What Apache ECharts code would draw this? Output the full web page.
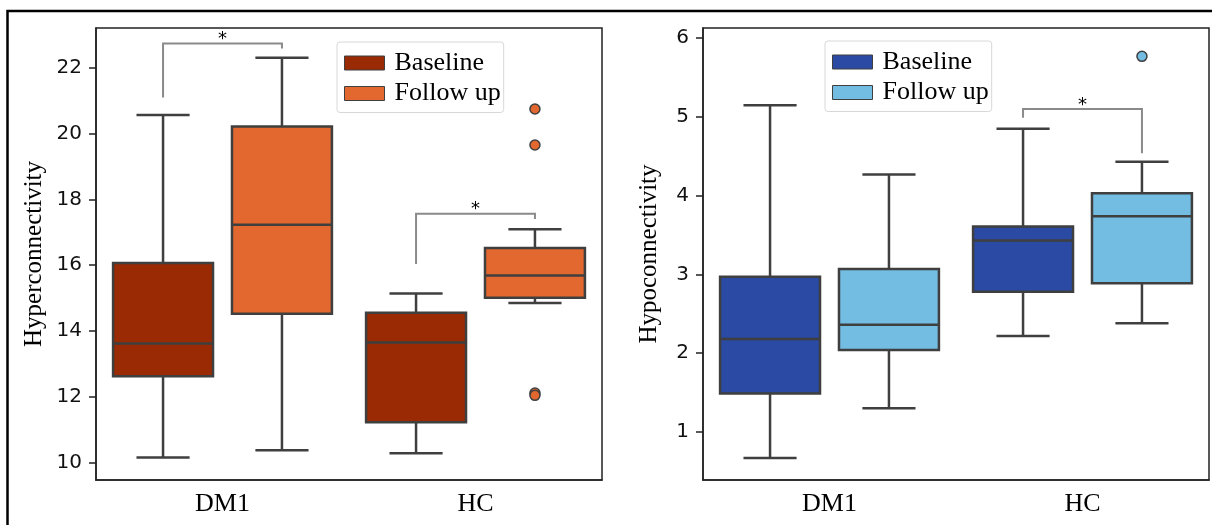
<!DOCTYPE html>
<html lang="en">

<head>
  <meta charset="utf-8">
  <title>Hyper- and hypoconnectivity boxplots</title>
  <style>
    * {
      margin: 0;
      padding: 0;
    }

    #chart-container {
      position: relative;
      width: 1212px;
      height: 525px;
      overflow: hidden;
      background: #fff;
    }
  </style>
</head>

<body>
  <div id="chart-container"></div>
  <script src="https://cdn.jsdelivr.net/npm/echarts@6/dist/echarts.min.js"></script>
  <script>
    var groups = ['DM1', 'HC'];

    // each box: [lower whisker, Q1, median, Q3, upper whisker], one per group
    var hyperBaseline = [[10.16, 12.63, 13.62, 16.07, 20.56], [10.29, 11.23, 13.65, 14.56, 15.14]];
    var hyperFollow = [[10.38, 14.53, 17.23, 20.21, 22.30], [14.85, 15.01, 15.69, 16.52, 17.09]];
    var hyperOutliers = [[1, 20.74], [1, 19.65], [1, 12.12], [1, 12.05]];
    // [group, left leg end, bar level, right leg end]
    var hyperBrackets = [[0, 21.09, 22.73, 22.58], [1, 16.04, 17.56, 17.40]];
    var hyperTicks = [10, 12, 14, 16, 18, 20, 22];

    var hypoBaseline = [[0.67, 1.49, 2.18, 2.97, 5.15], [2.22, 2.78, 3.43, 3.61, 4.85]];
    var hypoFollow = [[1.30, 2.04, 2.36, 3.07, 4.27], [2.38, 2.89, 3.74, 4.03, 4.43]];
    var hypoOutliers = [[1, 5.77]];
    var hypoBrackets = [[1, 4.99, 5.10, 4.54]];
    var hypoTicks = [1, 2, 3, 4, 5, 6];

    var EDGE = '#3f3f3f';
    var SPINE = '#222';
    var SERIF = 'Liberation Serif';
    var HUE_OFFSET = [-0.235, 0.235];
    var BOX_W = 0.395;
    var CAP_W = 0.21;

    var dom = document.getElementById('chart-container');
    var myChart = echarts.init(dom, null, { renderer: 'canvas' });

    function withIndex(list) {
      return list.map(function (v, i) { return [i].concat(v); });
    }

    function hueX(api, cat, hue) {
      var band = api.size([1, 0])[0];
      return { x: api.coord([cat, 0])[0] + HUE_OFFSET[hue] * band, band: band };
    }

    function boxRender(hue, fill) {
      return function (params, api) {
        var cat = api.value(0);
        var p = hueX(api, cat, hue);
        var cx = p.x;
        var y = [1, 2, 3, 4, 5].map(function (d) { return api.coord([cat, api.value(d)])[1]; });
        var hw = BOX_W * p.band / 2, cw = CAP_W * p.band / 2;
        var ls = { stroke: EDGE, lineWidth: 2.5 };
        return {
          type: 'group', children: [
            { type: 'line', shape: { x1: cx, y1: y[0], x2: cx, y2: y[1] }, style: ls },
            { type: 'line', shape: { x1: cx, y1: y[3], x2: cx, y2: y[4] }, style: ls },
            { type: 'line', shape: { x1: cx - cw, y1: y[0], x2: cx + cw, y2: y[0] }, style: ls },
            { type: 'line', shape: { x1: cx - cw, y1: y[4], x2: cx + cw, y2: y[4] }, style: ls },
            { type: 'rect', shape: { x: cx - hw, y: y[3], width: 2 * hw, height: y[1] - y[3] },
              style: { fill: fill, stroke: EDGE, lineWidth: 2.5 } },
            { type: 'line', shape: { x1: cx - hw, y1: y[2], x2: cx + hw, y2: y[2] }, style: ls }
          ]
        };
      };
    }

    function outlierRender(hue, fill) {
      return function (params, api) {
        var cat = api.value(0);
        var cx = hueX(api, cat, hue).x;
        var cy = api.coord([cat, api.value(1)])[1];
        return { type: 'circle', shape: { cx: cx, cy: cy, r: 5 }, style: { fill: fill, stroke: EDGE, lineWidth: 1.5 } };
      };
    }

    function bracketRender(params, api) {
      var cat = api.value(0);
      var x0 = hueX(api, cat, 0).x, x1 = hueX(api, cat, 1).x;
      var yl = api.coord([cat, api.value(1)])[1];
      var yt = api.coord([cat, api.value(2)])[1];
      var yr = api.coord([cat, api.value(3)])[1];
      return {
        type: 'group', children: [
          { type: 'polyline', shape: { points: [[x0, yl], [x0, yt], [x1, yt], [x1, yr]] },
            style: { fill: 'none', stroke: '#8a8a8a', lineWidth: 2 } },
          { type: 'text', style: { text: '*', x: (x0 + x1) / 2, y: yt + 5, align: 'center', verticalAlign: 'bottom',
            font: '18px DejaVu Sans', fill: '#000' } }
        ]
      };
    }

    function panel(idx, suffix, colors, base, follow, outliers, brackets) {
      return [
        { type: 'custom', name: 'Baseline' + suffix, xAxisIndex: idx, yAxisIndex: idx,
          itemStyle: { color: colors[0] }, renderItem: boxRender(0, colors[0]),
          encode: { x: 0, y: [1, 2, 3, 4, 5] }, data: withIndex(base) },
        { type: 'custom', name: 'Follow up' + suffix, xAxisIndex: idx, yAxisIndex: idx,
          itemStyle: { color: colors[1] }, renderItem: boxRender(1, colors[1]),
          encode: { x: 0, y: [1, 2, 3, 4, 5] }, data: withIndex(follow) },
        { type: 'custom', name: 'outliers' + idx, xAxisIndex: idx, yAxisIndex: idx,
          renderItem: outlierRender(1, colors[1]), encode: { x: 0, y: 1 }, data: outliers },
        { type: 'custom', name: 'brackets' + idx, xAxisIndex: idx, yAxisIndex: idx, z: 5,
          renderItem: bracketRender, encode: { x: 0, y: [1, 2, 3] }, data: brackets }
      ];
    }

    function xAxis(idx) {
      return {
        type: 'category', gridIndex: idx, data: groups,
        axisLine: { show: true, lineStyle: { color: SPINE, width: 1.5 } },
        axisTick: { alignWithLabel: true, length: 6, lineStyle: { color: SPINE, width: 1.5 } },
        axisLabel: { fontFamily: SERIF, fontSize: 26, color: '#000', margin: 11 }
      };
    }

    function yAxis(idx, name, min, max, ticks, gap) {
      return {
        type: 'value', gridIndex: idx, min: min, max: max,
        name: name, nameLocation: 'middle', nameGap: gap,
        nameTextStyle: { fontFamily: SERIF, fontSize: 25, color: '#000' },
        splitLine: { show: false },
        axisLine: { show: true, lineStyle: { color: SPINE, width: 1.5 } },
        axisTick: { show: true, length: 7, customValues: ticks, lineStyle: { color: SPINE, width: 1.5 } },
        axisLabel: { customValues: ticks, fontFamily: 'DejaVu Sans', fontSize: 20, color: '#111', margin: 14 }
      };
    }

    function legend(left, top, suffix) {
      return {
        left: left, top: top, orient: 'vertical',
        data: ['Baseline' + suffix, 'Follow up' + suffix],
        formatter: function (n) { return n.replace(suffix, ''); },
        icon: 'rect', itemWidth: 40, itemHeight: 14, itemGap: 4.5,
        itemStyle: { borderColor: EDGE, borderWidth: 1 },
        padding: [8, 3, 6, 7],
        borderColor: '#d8d8d8', borderWidth: 1, borderRadius: 3,
        textStyle: { fontFamily: SERIF, fontSize: 26, lineHeight: 25, color: '#000', padding: [0, 0, 0, 5] }
      };
    }

    var option = {
      backgroundColor: '#fff',
      animation: false,
      grid: [
        { left: 96, top: 28, width: 506, height: 452, show: true, borderColor: SPINE, borderWidth: 1.5 },
        { left: 703, top: 28, width: 506, height: 452, show: true, borderColor: SPINE, borderWidth: 1.5 }
      ],
      xAxis: [xAxis(0), xAxis(1)],
      yAxis: [
        yAxis(0, 'Hyperconnectivity', 9.48, 23.2, hyperTicks, 49),
        yAxis(1, 'Hypoconnectivity', 0.39, 6.13, hypoTicks, 41)
      ],
      legend: [legend(337, 42, ''), legend(825, 41, ' (hypo)')],
      graphic: [{
        type: 'rect', silent: true,
        shape: { x: 7.5, y: 11, width: 1230, height: 540 },
        style: { fill: 'none', stroke: '#000', lineWidth: 2.5 }
      }],
      series: [].concat(
        panel(0, '', ['#992a03', '#e2682f'], hyperBaseline, hyperFollow, hyperOutliers, hyperBrackets),
        panel(1, ' (hypo)', ['#2a4aa3', '#73bde3'], hypoBaseline, hypoFollow, hypoOutliers, hypoBrackets)
      )
    };

    myChart.setOption(option);
    window.addEventListener('resize', myChart.resize);
  </script>
</body>

</html>
